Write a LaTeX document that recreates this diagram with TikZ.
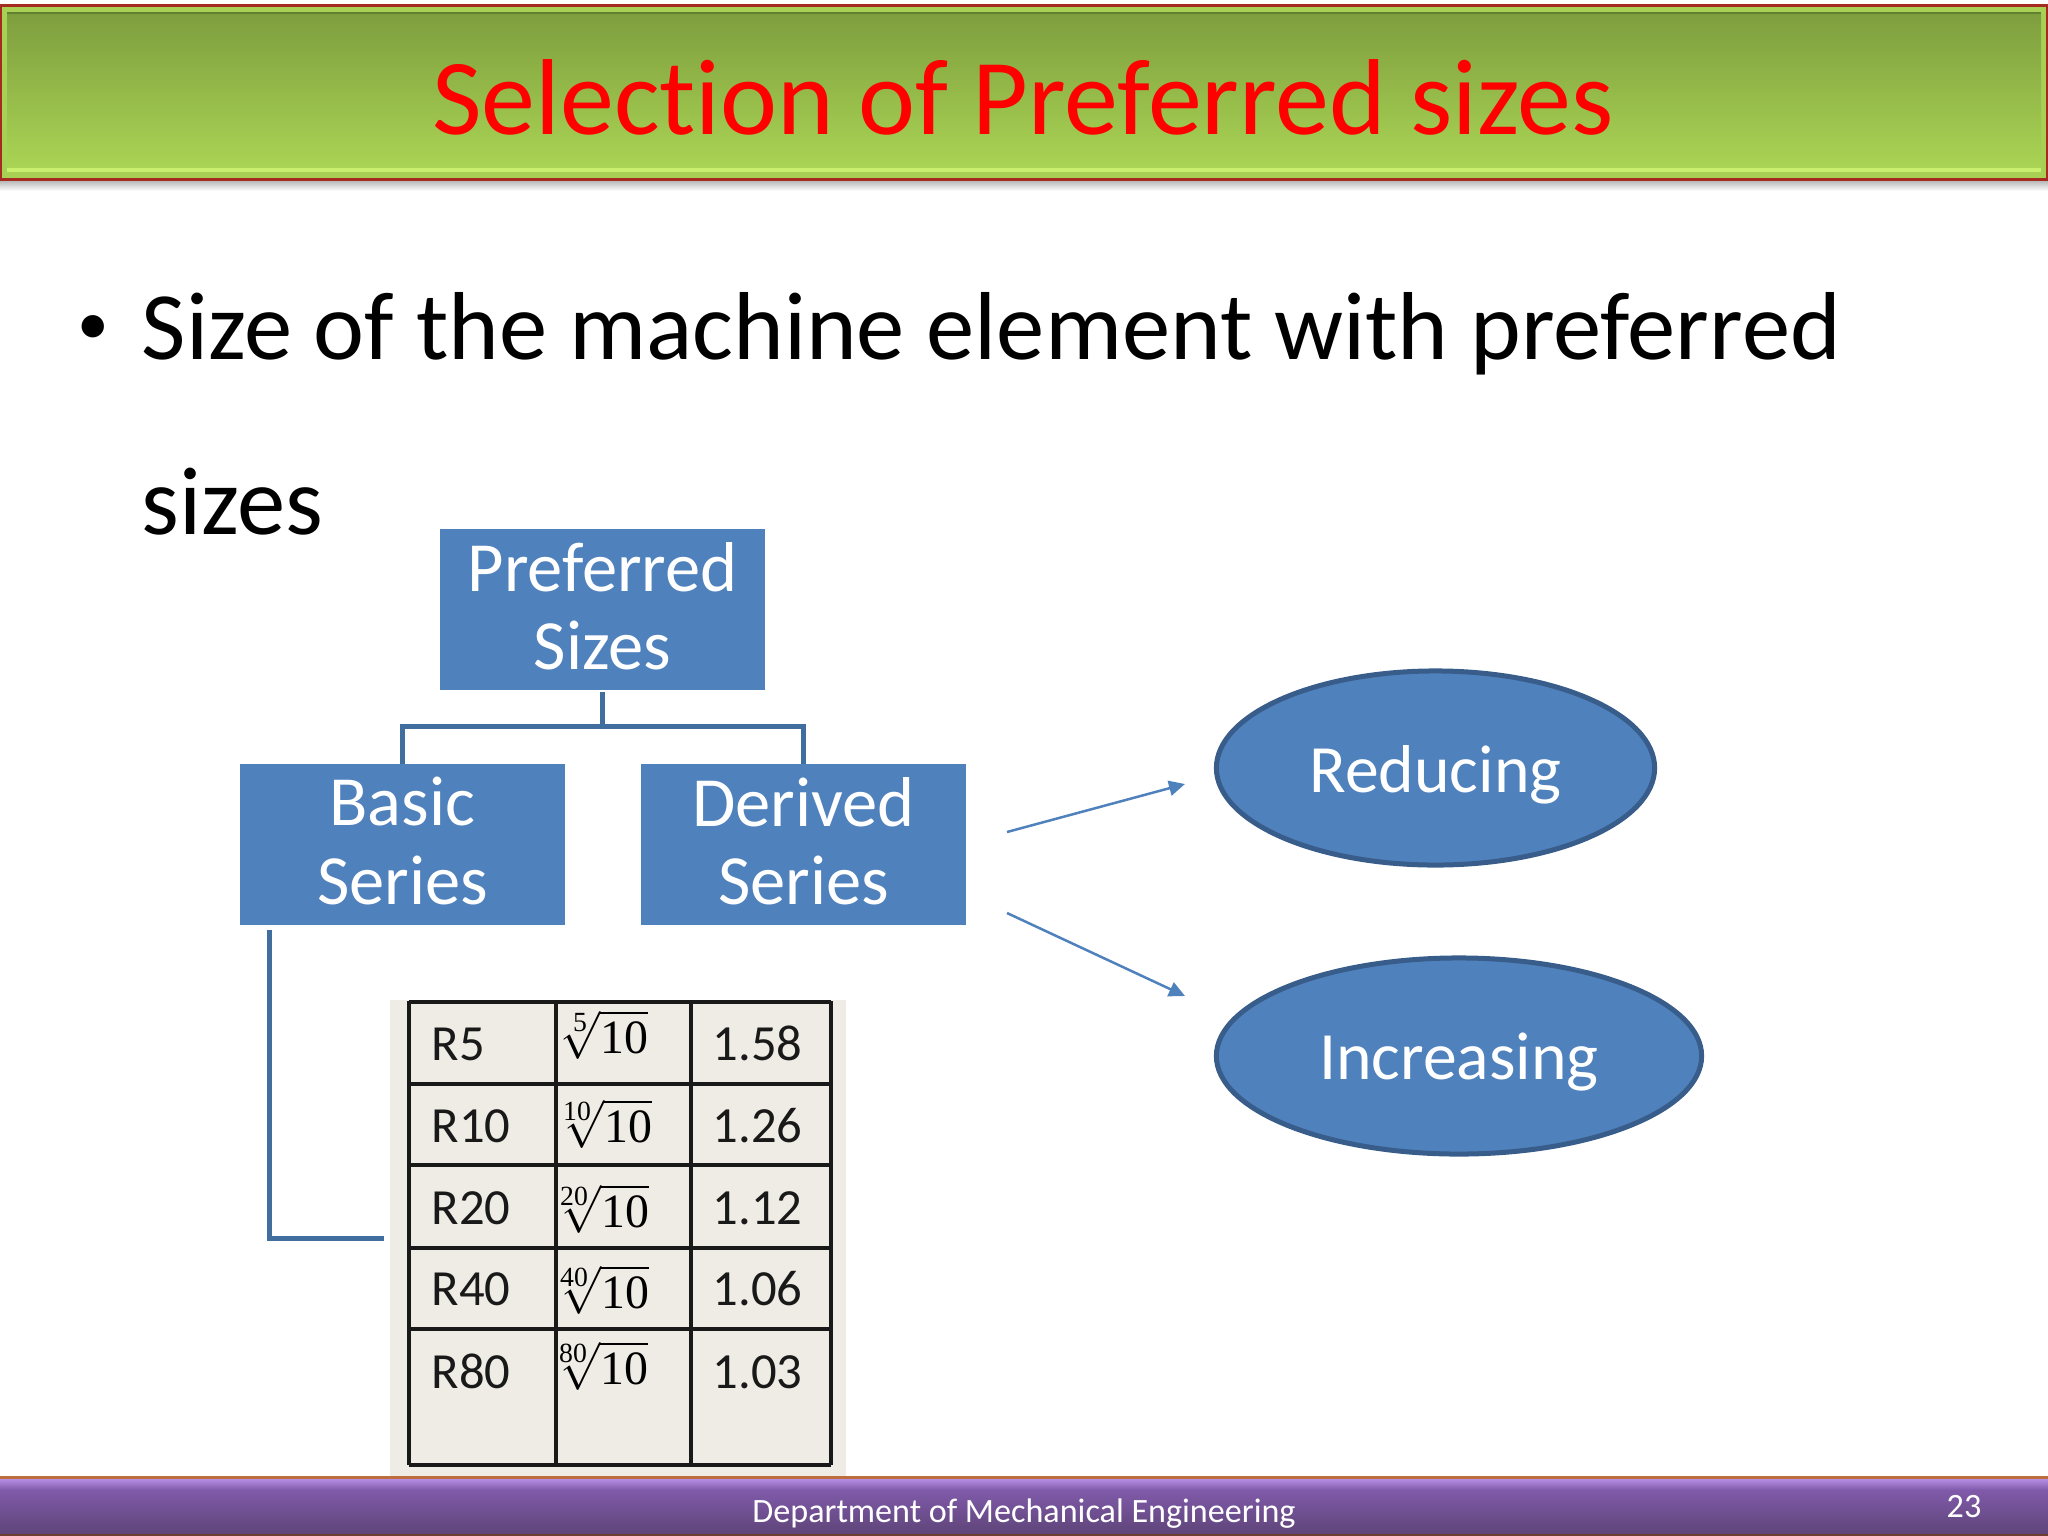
\documentclass[tikz,border=0pt]{standalone}
\usepackage{amsmath}
\usepackage{fontspec}
\setmainfont{Carlito}[Ligatures={NoCommon}]
\newfontfamily\timesfont{Liberation Serif}
\usetikzlibrary{arrows.meta,shapes.geometric}
\definecolor{boxblue}{HTML}{4F81BD}
\definecolor{edgeblue}{HTML}{3F6E9F}
\definecolor{ovalline}{HTML}{385D8A}
\definecolor{tablebg}{HTML}{EEECE4}
\definecolor{titletop}{HTML}{7E9E3E}
\definecolor{titlelow}{HTML}{AAD454}
\definecolor{titleedge}{HTML}{A8D054}
\definecolor{titlelight}{HTML}{C8F06E}
\definecolor{titledark}{HTML}{608032}
\definecolor{titlered}{HTML}{A52A20}
\definecolor{footmid}{HTML}{805AAA}
\definecolor{footlow}{HTML}{5E4478}
\definecolor{footlight}{HTML}{BA92E8}
\definecolor{footorange}{HTML}{BE6E3C}
\definecolor{footdark}{HTML}{6E3C32}
\newcommand{\rootcell}[1]{\scalebox{1.36}{$\sqrt[\hbox{\fontsize{5.8}{6}\timesfont #1}]{\hbox{\timesfont 10}}$}}
\newcommand{\nudge}[2]{\raisebox{#1}[\height][\depth]{#2}}

\begin{document}
\begin{tikzpicture}[x=0.01cm, y=-0.01cm,
    bluebox/.style={fill=boxblue, text=white, minimum width=3.25cm, minimum height=1.6cm,
        inner sep=0pt, align=center, font=\fontsize{20.06}{22.3}\selectfont},
    oval/.style={ellipse, draw=ovalline, line width=0.05cm, fill=boxblue, text=white,
        inner sep=0pt, font=\fontsize{19.25}{22}\selectfont},
    elbow/.style={draw=edgeblue, line width=0.05cm},
    thinarrow/.style={draw=boxblue, line width=0.025cm, -{Triangle[length=0.16cm,width=0.15cm]}},
    grid/.style={draw=black!90, line width=0.035cm},
    cell/.style={anchor=base west, inner sep=0pt, font=\fontsize{14.4}{16}\selectfont, text=black!90},
    bodytext/.style={anchor=base west, inner sep=0pt, font=\fontsize{27.46}{32}\selectfont}]
    \useasboundingbox (0,0) rectangle (2048,1536);
    % title bar
    \shade[top color=black!35, bottom color=white] (0,178) rectangle (2048,191);
    \fill[titlered] (0,4) rectangle (2048,181);
    \fill[titleedge] (2,7) rectangle (2046,178);
    \shade[top color=titletop, bottom color=titlelow] (7,13) rectangle (2041,168);
    \fill[titlelight] (7,168) rectangle (2041,172);
    \fill[titledark] (7,12) rectangle (2041,14);
    \node (title) [anchor=base, inner sep=0pt, text=red, font=\fontsize{30.7}{34}\selectfont] at (1023,134)
        {Selection of Preferred sizes};
    % body text
    \node (bullet) [bodytext, font=\fontsize{18}{20}\selectfont] at (77,344) {•};
    \node (lineone) [bodytext] at (141,359) {Size of the machine element with preferred};
    \node (linetwo) [bodytext] at (141,534) {sizes};
    % boxes
    \node (pref) [bluebox] at (602.5,609.5) {\nudge{0.035cm}{Preferred}\\\nudge{0.03cm}{Sizes}};
    \node (basic) [bluebox] at (402.5,844.5) {\nudge{0.035cm}{Basic}\\\nudge{0.03cm}{Series}};
    \node (derived) [bluebox] at (803.5,844.5) {\nudge{0.035cm}{Derived}\\\nudge{0.03cm}{Series}};
    \draw[elbow, shorten <=0.02cm] (pref.south) -- (602.5,726) coordinate (bus) -| (basic.north);
    \draw[elbow] (bus) -| (derived.north);
    % ovals
    \node (reducing) [oval, minimum width=4.38cm, minimum height=1.94cm] at (1435.5,768) {\nudge{-0.065cm}{Reducing}};
    \node (increasing) [oval, minimum width=4.85cm, minimum height=1.96cm] at (1459,1056) {\nudge{-0.065cm}{Increasing}};
    \coordinate (outone) at (1007,832);
    \coordinate (intoreducing) at (1185,784);
    \coordinate (outtwo) at (1007,913);
    \coordinate (intoincreasing) at (1185,996);
    \draw[thinarrow] (outone) -- (intoreducing);
    \draw[thinarrow] (outtwo) -- (intoincreasing);
    % table
    \node (sizetable) [fill=tablebg, minimum width=4.56cm, minimum height=4.76cm, inner sep=0pt] at (618,1238) {};
    \draw[elbow, shorten <=0.05cm, shorten >=0.05cm] ([xshift=0.3cm]basic.south west) |- (sizetable.west);
    \foreach \gx in {409,556,691,831}
        \draw[grid] (\gx,1001) -- (\gx,1465);
    \foreach \gy in {1002,1084,1165,1248,1329,1465}
        \draw[grid] (409,\gy) -- (831,\gy);
    \foreach \idx/\base/\rx/\ry/\val in {
        5/1060/604/1035/1.58, 10/1142/601/1124/1.26, 20/1224/598/1209/1.12,
        40/1305/598/1290/1.06, 80/1388/597/1366/1.03}{
        \node (name\idx) [cell] at (431,\base) {R\idx};
        \node (root\idx) [inner sep=0pt] at (\rx,\ry) {\rootcell{\idx}};
        \node (val\idx) [cell] at (712,\base) {\val};
    }
    % footer
    \shade[top color=footmid, bottom color=footlow] (0,1490) rectangle (2048,1534);
    \shade[top color=footlight, bottom color=footmid] (0,1478) rectangle (2048,1490);
    \fill[footorange] (0,1476) rectangle (2048,1478.5);
    \fill[footdark] (0,1534) rectangle (2048,1536);
    \node (dept) [anchor=base, inner sep=0pt, text=white, font=\fontsize{9.7}{11}\selectfont] at (1024,1522)
        {Department of Mechanical Engineering};
    \node (pageno) [anchor=base, inner sep=0pt, text=white, font=\fontsize{9.7}{11}\selectfont] at (1964,1517) {23};
\end{tikzpicture}
\end{document}
